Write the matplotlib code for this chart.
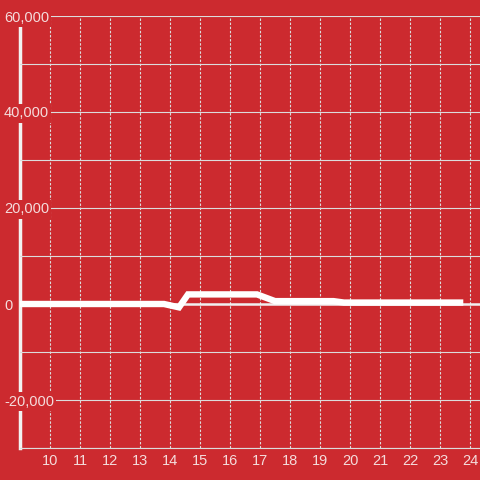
import matplotlib.pyplot as plt
from matplotlib.ticker import MultipleLocator, FuncFormatter

plt.rcParams['font.family'] = ['Liberation Sans', 'DejaVu Sans']

# series (hour of day vs value)
hours = [9.0, 13.8, 14.3, 14.6, 16.9, 17.5, 19.45, 19.8, 23.67]
values = [0, 0, -700, 2000, 2000, 600, 600, 300, 300]

x_ticks = list(range(10, 25))
bg = '#cc2a2f'
text_col = '#f4dcdc'
grid_col = '#dcdcdc'

fig = plt.figure(figsize=(4.8, 4.8), dpi=100, facecolor=bg)
ax = fig.add_axes([20 / 480, 32 / 480, 460 / 480, 432 / 480], facecolor=bg)

ax.plot(hours, values, color='white', linewidth=4.6, solid_joinstyle='miter', zorder=3)
ax.axhline(0, color='#f0f0f0', linewidth=1.8, zorder=1)

ax.set_xlim(9, 24 + 1 / 3)
ax.set_ylim(-30000, 60000)
ax.set_xticks(x_ticks)
ax.yaxis.set_major_locator(MultipleLocator(20000))
ax.yaxis.set_minor_locator(MultipleLocator(10000))
ax.yaxis.set_major_formatter(FuncFormatter(lambda v, p: f"{int(v):,}"))

ax.set_axisbelow(True)
ax.grid(axis='y', which='both', color=grid_col, linewidth=0.8)
ax.grid(axis='x', color=grid_col, linewidth=0.8, linestyle=(0, (2.2, 1.5)))

for s in ['top', 'right']:
    ax.spines[s].set_visible(False)
ax.spines['left'].set_color('#f2f2f2')
ax.spines['left'].set_linewidth(2.5)
ax.spines['left'].set_zorder(0.4)
ax.spines['bottom'].set_color(grid_col)
ax.spines['bottom'].set_linewidth(0.8)

ax.tick_params(axis='both', which='both', length=0, labelsize=10.5, labelcolor=text_col)
ax.tick_params(axis='y', pad=11.5)
ax.tick_params(axis='x', pad=4.5)
for lab in ax.get_yticklabels():
    lab.set_horizontalalignment('left')
    lab.set_bbox(dict(facecolor=bg, edgecolor='none', pad=1.5))

fig.savefig('out.png', dpi=100, facecolor=bg)
